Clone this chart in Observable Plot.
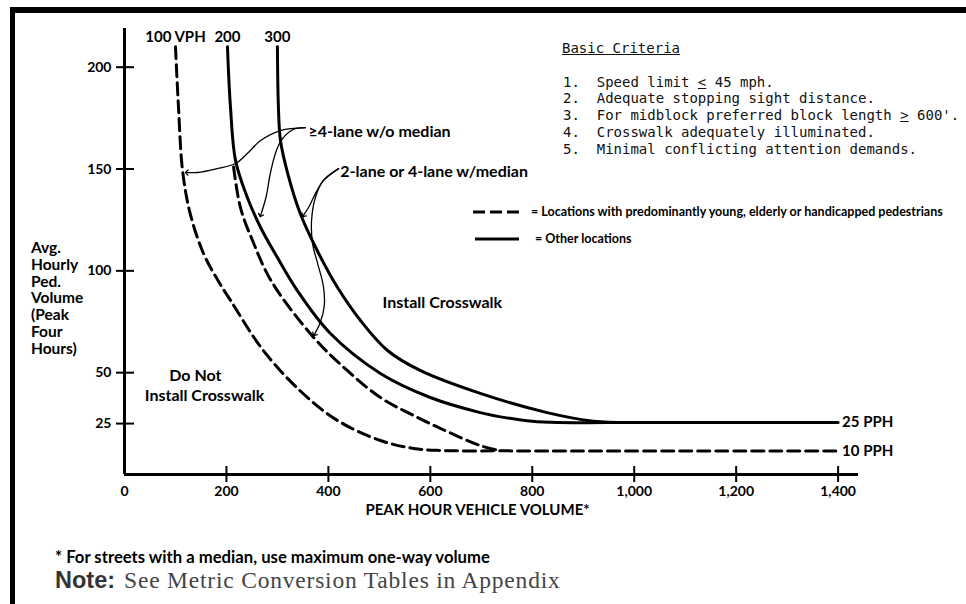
<!DOCTYPE html>
<html>
<head>
<meta charset="utf-8">
<script src="https://cdn.jsdelivr.net/npm/d3@7"></script>
<script src="https://cdn.jsdelivr.net/npm/@observablehq/plot@0.6"></script>
<style>
  body { margin: 0; background: #fff; }
  #wrap { position: relative; width: 966px; height: 604px; overflow: hidden; background: #fff; font-family: Lato, sans-serif; color: #000; }
  #frame { position: absolute; left: 10px; top: 7px; width: 990px; height: 640px; border-left: 5px solid #000; border-top: 6px solid #000; }
  #chart { position: absolute; left: 0; top: 0; }
  .ytitle { position: absolute; left: 31px; top: 239px; font: bold 15.5px/16.8px Lato, sans-serif; }
  .crit-title { position: absolute; left: 562px; top: 39px; font: 14px/18px "DejaVu Sans Mono", monospace; white-space: pre; color: #111; text-decoration: underline; }
  .crit-list { position: absolute; left: 563px; top: 73.5px; font: 14px/16.75px "DejaVu Sans Mono", monospace; white-space: pre; color: #111; }
  .leg { position: absolute; font: bold 12.5px/14px Lato, sans-serif; white-space: nowrap; }
  .leg svg { position: absolute; }
  .foot1 { position: absolute; left: 55px; top: 548px; font: bold 16.7px/19px Lato, sans-serif; white-space: nowrap; }
  .foot2 { position: absolute; left: 55px; top: 567px; white-space: nowrap; line-height: 28px; }
  .foot2 b { font: bold 23.5px "Liberation Sans", Arial, sans-serif; color: #333; }
  .foot2 span { font: 23.5px "Liberation Serif", serif; color: #444; margin-left: 9px; letter-spacing: 0.8px; }
</style>
</head>
<body>
<div id="wrap">
  <div id="frame"></div>
  <div id="chart"></div>
  <div class="ytitle" id="ytitle"></div>
  <div class="crit-title" id="critTitle"></div>
  <div class="crit-list" id="critList"></div>
  <div class="leg" style="left:473px; top:205px;">
    <svg width="48" height="14" style="left:0;top:0"><line x1="0" x2="46" y1="7" y2="7" stroke="#000" stroke-width="3" stroke-dasharray="12,5"/></svg>
    <span id="leg1" style="position:absolute; left:58px; top:0;"></span>
  </div>
  <div class="leg" style="left:475px; top:232px;">
    <svg width="48" height="14" style="left:0;top:0"><line x1="0" x2="44" y1="7" y2="7" stroke="#000" stroke-width="3"/></svg>
    <span id="leg2" style="position:absolute; left:60px; top:0;"></span>
  </div>
  <div class="foot1" id="foot1"></div>
  <div class="foot2" id="foot2"></div>
</div>
<script>
// ---------- axis ticks ----------
const xTicks = [0, 200, 400, 600, 800, 1000, 1200, 1400];
const yTicks = [25, 50, 100, 150, 200];

// ---------- curves (peak hour vehicle volume vs avg hourly ped volume) ----------
// 100 VPH, locations with young/elderly/handicapped pedestrians (dashed)
const dash100X = [100, 106, 114, 129, 155, 184, 208, 272, 345, 418, 502, 567, 620, 760, 1400];
const dash100Y = [210, 180, 149, 128, 108.5, 95, 85.5, 61, 41, 26.5, 16.7, 12.8, 11.8, 11.6, 11.6];
// 200 VPH, young/elderly/handicapped (dashed)
const dash200X = [214, 227.5, 251, 288, 371, 437, 502, 567, 633, 698, 737];
const dash200Y = [151, 131, 115, 95, 67.3, 51.1, 37.8, 29, 21.1, 14.2, 11.7];
// 200 VPH, other locations (solid)
const solid200X = [202, 208, 218, 241, 267, 300, 339, 404, 502, 600, 698, 750, 800, 850, 950, 1400];
const solid200Y = [210, 180, 154, 136, 121.3, 106.5, 90.3, 69.2, 49.6, 37.8, 30.4, 27.8, 26.1, 25.5, 25.5, 25.5];
// 300 VPH, other locations (solid)
const solid300X = [300, 302, 306, 320, 345, 378, 418, 463, 516, 580, 698, 829, 920, 990];
const solid300Y = [210, 180, 164, 148, 128, 110, 91.8, 75.6, 60.9, 51.1, 39.8, 30.4, 26.2, 25.5];

// ---------- leader lines for the lane annotations ----------
const leadAX = [355, 306, 267, 241, 218, 182, 143, 122];
const leadAY = [170.3, 168.9, 164, 157.6, 152.7, 150.2, 148.3, 148.3];
const leadBX = [355, 331, 310, 298, 286, 278, 267];
const leadBY = [170.3, 169.4, 164.9, 159.1, 147.8, 136.5, 127.2];
const leadCX = [420, 390, 374.5, 361, 351];
const leadCY = [150.2, 144.3, 137.9, 131.1, 127.2];
const leadDX = [420, 390, 374.5, 367, 369, 380, 390, 392, 384, 372.5];
const leadDY = [150.2, 144.3, 136, 124.7, 113.4, 102.6, 92.8, 83, 74.6, 68.7];

// ---------- labels ----------
const vphLabels = ["100 VPH", "200", "300"];
const vphLabelX = [100, 202, 300];
const vphLabelY = [214.5, 214.5, 214.5];
const pphLabels = ["25 PPH", "10 PPH"];
const pphLevels = [25.5, 11.6];
const laneLabels = ["\u22654-lane w/o median", "2-lane or 4-lane w/median"];
const laneLabelX = [361, 423.5];
const laneLabelY = [168, 148.7];
const zoneLabels = ["Install Crosswalk", "Do Not", "Install Crosswalk"];
const zoneLabelX = [623.5, 139, 157];
const zoneLabelY = [84.4, 48.6, 38.8];
const xTitle = "PEAK HOUR VEHICLE VOLUME*";
const yTitleLines = ["Avg.", "Hourly", "Ped.", "Volume", "(Peak", "Four", "Hours)"];
const criteriaTitle = "Basic Criteria";
const criteriaItems = [
  "1.  Speed limit <u>&lt;</u> 45 mph.",
  "2.  Adequate stopping sight distance.",
  "3.  For midblock preferred block length <u>&gt;</u> 600'.",
  "4.  Crosswalk adequately illuminated.",
  "5.  Minimal conflicting attention demands."
];
const legendTexts = ["= Locations with predominantly young, elderly or handicapped pedestrians", "= Other locations"];
const footnote = "* For streets with a median, use maximum one-way volume";
const noteHead = "Note:";
const noteText = "See Metric Conversion Tables in Appendix";

// ---------- build tables ----------
const toRows = (name, xs, ys) => xs.map((x, i) => ({curve: name, x, y: ys[i]}));
const dashedRows = [...toRows("100d", dash100X, dash100Y), ...toRows("200d", dash200X, dash200Y)];
const solidRows = [...toRows("200s", solid200X, solid200Y), ...toRows("300s", solid300X, solid300Y)];
const leaderRows = [
  ...toRows("A", leadAX, leadAY), ...toRows("B", leadBX, leadBY),
  ...toRows("C", leadCX, leadCY), ...toRows("D", leadDX, leadDY)
];
const vphData = vphLabels.map((t, i) => ({t, x: vphLabelX[i], y: vphLabelY[i]}));
const pphData = pphLabels.map((t, i) => ({t, y: pphLevels[i]}));
const laneData = laneLabels.map((t, i) => ({t, x: laneLabelX[i], y: laneLabelY[i]}));
const zoneData = zoneLabels.map((t, i) => ({t, x: zoneLabelX[i], y: zoneLabelY[i]}));

const chart = Plot.plot({
  width: 966,
  height: 530,
  marginLeft: 124,
  marginRight: 108,
  marginTop: 28,
  marginBottom: 56,
  x: {domain: [0, 1440], axis: null},
  y: {domain: [0, 219], axis: null},
  style: {fontFamily: "Lato, sans-serif", fontWeight: "bold", fontSize: "14px", background: "transparent", color: "#000", overflow: "visible"},
  marks: [
    Plot.ruleX([0], {strokeWidth: 3}),
    Plot.ruleY([0], {strokeWidth: 3}),
    Plot.axisX({ticks: xTicks.filter(d => d > 0), tickSize: 16, dy: -8, fill: "none", label: null, strokeWidth: 2}),
    Plot.axisX({ticks: xTicks, tickSize: 0, tickPadding: 12, tickFormat: d3.format(","), label: null, fontSize: 14}),
    Plot.axisY({ticks: yTicks, tickSize: 18, dx: 10, fill: "none", label: null, strokeWidth: 2}),
    Plot.axisY({ticks: yTicks, tickSize: 0, tickPadding: 13, label: null, fontSize: 14}),
    Plot.line(dashedRows, {x: "x", y: "y", z: "curve", curve: "catmull-rom", strokeWidth: 3, strokeDasharray: "12,6"}),
    Plot.line(solidRows, {x: "x", y: "y", z: "curve", curve: "catmull-rom", strokeWidth: 3}),
    Plot.line(leaderRows, {x: "x", y: "y", z: "curve", curve: "catmull-rom", strokeWidth: 1.3, markerEnd: "arrow"}),
    Plot.text(vphData, {x: "x", y: "y", text: "t", fontSize: 15}),
    Plot.text(pphData, {x: 1400, y: "y", text: "t", textAnchor: "start", dx: 4, fontSize: 15}),
    Plot.text(laneData, {x: "x", y: "y", text: "t", textAnchor: "start", fontSize: 16}),
    Plot.text(zoneData, {x: "x", y: "y", text: "t", fontSize: 16}),
    Plot.text([xTitle], {frameAnchor: "bottom", dy: 40, dx: -14, text: d => d, fontSize: 15})
  ]
});
document.getElementById("chart").appendChild(chart);

document.getElementById("ytitle").innerHTML = yTitleLines.join("<br>");
document.getElementById("critTitle").textContent = criteriaTitle;
document.getElementById("critList").innerHTML = criteriaItems.join("<br>");
document.getElementById("leg1").textContent = legendTexts[0];
document.getElementById("leg2").textContent = legendTexts[1];
document.getElementById("foot1").textContent = footnote;
document.getElementById("foot2").innerHTML = `<b>${noteHead}</b><span>${noteText}</span>`;
</script>
</body>
</html>
